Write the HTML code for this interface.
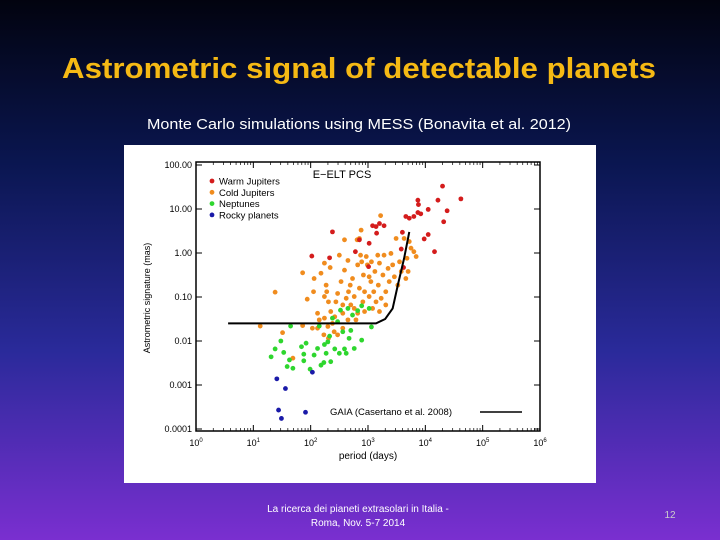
<!DOCTYPE html>
<html><head><meta charset="utf-8"><style>
html,body{margin:0;padding:0;width:720px;height:540px;overflow:hidden}
body{background:linear-gradient(180deg,#02030f 0%,#0a1650 30%,#2a2a9a 65%,#7a2fd0 100%)}
</style></head><body>
<svg width="720" height="540" xmlns="http://www.w3.org/2000/svg" font-family="Liberation Sans, sans-serif">
<text x="359" y="78" text-anchor="middle" font-size="29" font-weight="bold" fill="#f5b914" textLength="594" lengthAdjust="spacingAndGlyphs">Astrometric signal of detectable planets</text>
<text x="359" y="129" text-anchor="middle" font-size="15" fill="#fff" textLength="424" lengthAdjust="spacingAndGlyphs">Monte Carlo simulations using MESS (Bonavita et al. 2012)</text>
<rect x="124" y="145" width="472" height="338" fill="#fff"/>
<g id="chart"></g>
<text x="358" y="512" text-anchor="middle" font-size="10" fill="#fff">La ricerca dei pianeti extrasolari in Italia -</text>
<text x="358" y="526" text-anchor="middle" font-size="10" fill="#fff">Roma, Nov. 5-7 2014</text>
<text x="670" y="518" text-anchor="middle" font-size="10" fill="#ccc">12</text>
</svg>
<script>
const warm=[[2.38,0.48],[2.02,-0.07],[2.33,-0.11],[2.78,0.03],[2.85,0.30],[3.02,0.22],[3.01,-0.31],[3.08,0.62],[3.14,0.60],[3.2,0.67],[3.28,0.62],[3.15,0.45],[3.6,0.47],[3.58,0.09],[3.62,-0.33],[3.66,0.83],[3.72,0.79],[3.8,0.83],[3.87,1.2],[3.88,1.1],[3.87,0.92],[3.92,0.89],[4.05,0.99],[4.22,1.2],[4.3,1.52],[4.38,0.96],[4.32,0.71],[4.62,1.23],[3.98,0.32],[4.05,0.42],[4.16,0.03]];
const cold=[[1.38,-0.89],[1.12,-1.66],[1.51,-1.81],[1.69,-2.39],[1.86,-0.45],[1.94,-1.05],[1.86,-1.65],[2.05,-0.88],[2.06,-0.58],[2.03,-1.71],[2.12,-1.37],[2.18,-0.46],[2.24,-0.23],[2.24,-0.99],[2.27,-0.73],[2.28,-0.88],[2.31,-1.11],[2.34,-0.33],[2.35,-1.33],[2.38,-1.6],[2.41,-1.79],[2.44,-1.11],[2.47,-0.92],[2.5,-0.05],[2.53,-0.65],[2.56,-1.37],[2.59,0.3],[2.59,-0.39],[2.62,-1.03],[2.65,-0.17],[2.66,-0.88],[2.69,-0.73],[2.7,-1.18],[2.73,-0.58],[2.76,-0.99],[2.79,-1.52],[2.81,0.3],[2.82,-0.27],[2.85,-0.8],[2.88,0.52],[2.89,-0.2],[2.91,-1.11],[2.92,-0.5],[2.94,-0.88],[2.97,-0.08],[2.99,-0.27],[3.02,-0.99],[3.05,-0.65],[3.06,-0.2],[3.1,-0.88],[3.12,-0.42],[3.14,-1.11],[3.17,-0.05],[3.18,-0.73],[3.2,-0.23],[3.22,0.85],[3.23,-1.03],[3.26,-0.5],[3.28,-0.05],[3.31,-0.88],[3.35,-0.35],[3.37,-0.65],[3.4,-0.01],[3.43,-0.27],[3.46,-0.54],[3.49,0.33],[3.52,-0.73],[3.55,-0.2],[3.58,-0.42],[3.63,0.33],[3.66,-0.58],[3.68,-0.12],[3.7,-0.42],[3.72,0.26],[3.75,0.11],[3.8,0.03],[3.84,-0.08],[2.12,-1.71],[2.23,-1.86],[2.31,-1.94],[2.47,-1.86],[2.56,-1.71],[2.65,-1.52],[2.24,-1.48],[2.15,-1.52],[2.3,-1.67],[2.42,-1.45],[2.82,-1.37],[2.94,-1.33],[3.08,-1.26],[3.2,-1.33],[3.31,-1.18],[2.56,-1.18],[2.76,-1.26],[2.85,0.33],[3.02,-0.54],[2.87,-0.05]];
const nept=[[1.31,-2.36],[1.38,-2.18],[1.48,-2.0],[1.53,-2.26],[1.59,-2.58],[1.63,-2.43],[1.69,-2.62],[1.65,-1.66],[1.84,-2.13],[1.88,-2.3],[1.92,-2.05],[1.88,-2.45],[1.99,-2.64],[2.06,-2.32],[2.12,-2.17],[2.15,-1.66],[2.18,-2.55],[2.23,-2.49],[2.24,-2.08],[2.27,-2.28],[2.3,-2.02],[2.33,-1.89],[2.35,-2.47],[2.38,-1.48],[2.42,-2.18],[2.47,-1.56],[2.5,-2.28],[2.52,-1.3],[2.56,-1.79],[2.59,-2.18],[2.62,-2.28],[2.65,-1.26],[2.67,-1.94],[2.7,-1.76],[2.73,-1.41],[2.76,-2.17],[2.82,-1.31],[2.89,-1.98],[2.89,-1.2],[3.02,-1.26],[3.06,-1.68]];
const rocky=[[1.41,-2.86],[1.56,-3.08],[1.44,-3.57],[1.49,-3.76],[1.91,-3.62],[2.03,-2.71]];
const gaia=[[0.56,-1.6],[3.14,-1.6],[3.3,-1.5],[3.43,-1.26],[3.52,-0.73],[3.63,-0.12],[3.72,0.48]];
const xTicks=[0,1,2,3,4,5,6];
const yTicks=[2,1,0,-1,-2,-3,-4];
const yLabels=["100.00","10.00","1.00","0.10","0.01","0.001","0.0001"];
const legendNames=["Warm Jupiters","Cold Jupiters","Neptunes","Rocky planets"];

const NS="http://www.w3.org/2000/svg";
const g=document.getElementById('chart');
const X0=196,X1=540,Y0=431,Y1=162;
const xs=v=>X0+v*(X1-X0)/6;
const ys=v=>165+(2-v)*44;
function el(t,a,p){const e=document.createElementNS(NS,t);for(const k in a)e.setAttribute(k,a[k]);(p||g).appendChild(e);return e;}
const fr=el('rect',{x:X0,y:Y1,width:X1-X0,height:Y0-Y1,fill:'none',stroke:'#000','stroke-width':1.5});


xTicks.forEach(t=>{
  const x=xs(t);
  el('line',{x1:x,x2:x,y1:Y0,y2:Y0-6,stroke:'#000'});el('line',{x1:x,x2:x,y1:Y1,y2:Y1+6,stroke:'#000'});
  if(t<6)for(let m=2;m<10;m++){const xm=xs(t+Math.log10(m));el('line',{x1:xm,x2:xm,y1:Y0,y2:Y0-3,stroke:'#000','stroke-width':0.7});el('line',{x1:xm,x2:xm,y1:Y1,y2:Y1+3,stroke:'#000','stroke-width':0.7});}
  const tx=el('text',{x:x,y:Y0+15,'text-anchor':'middle','font-size':9,fill:'#000'});
  
  
  tx.textContent='10';const s=el('tspan',{dy:-4,'font-size':6},tx);s.textContent=t;
});
yTicks.forEach((t,i)=>{
  const y=ys(t);
  el('line',{x1:X0,x2:X0+6,y1:y,y2:y,stroke:'#000'});el('line',{x1:X1,x2:X1-6,y1:y,y2:y,stroke:'#000'});
  const tx=el('text',{x:X0-4,y:y+3,'text-anchor':'end','font-size':9,fill:'#000'});
  
  
  tx.textContent=yLabels[i];
});
const xt=el('text',{x:368,y:459,'text-anchor':'middle','font-size':10,fill:'#000'});


xt.textContent='period (days)';
const yt=el('text',{x:0,y:0,'text-anchor':'middle','font-size':9,fill:'#000',transform:'translate(150,298) rotate(-90)'});


yt.textContent='Astrometric signature (mas)';
const ti=el('text',{x:342,y:178,'text-anchor':'middle','font-size':11,fill:'#000'});


ti.textContent='E\u2212ELT PCS';
const colors=['#d41c1c','#f08c1e','#2ed62e','#1a1aa8'];
[[cold,1],[nept,2],[rocky,3],[warm,0]].forEach(([arr,ci])=>arr.forEach(p=>{
  const c=el('circle',{cx:xs(p[0]),cy:ys(p[1]),r:2.4,fill:colors[ci]});
  
  
}));
const gl=el('polyline',{points:gaia.map(p=>xs(p[0])+','+ys(p[1])).join(' '),fill:'none',stroke:'#000','stroke-width':2});


legendNames.forEach((n,i)=>{
  const y=181+i*11.3;
  const c=el('circle',{cx:212,cy:y,r:2.4,fill:colors[i]});
  
  
  const t=el('text',{x:219,y:y+3.5,'font-size':9.5,fill:'#000'});
  
  
  t.textContent=n;
});
const gt=el('text',{x:330,y:415,'font-size':9.5,fill:'#000'});


gt.textContent='GAIA (Casertano et al. 2008)';
const gs=el('line',{x1:480,x2:522,y1:412,y2:412,stroke:'#000','stroke-width':1.5});


</script>
</body></html>
